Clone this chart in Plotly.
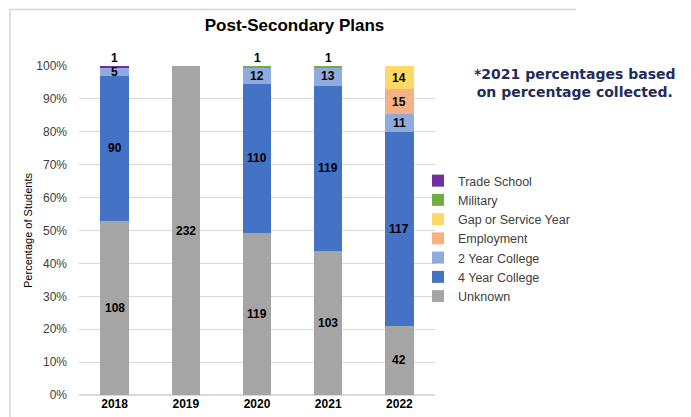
import plotly.graph_objects as go

years = ["2018", "2019", "2020", "2021", "2022"]
unknown = [108, 232, 119, 103, 42]
four_year = [90, 0, 110, 119, 117]
two_year = [5, 0, 12, 13, 11]
employment = [0, 0, 0, 0, 15]
gap_year = [0, 0, 0, 0, 14]
military = [0, 0, 1, 1, 0]
trade_school = [1, 0, 0, 0, 0]

series = [
    ("Unknown", unknown, "#A5A5A5"),
    ("4 Year College", four_year, "#4472C4"),
    ("2 Year College", two_year, "#8FAADC"),
    ("Employment", employment, "#F4B183"),
    ("Gap or Service Year", gap_year, "#FFD966"),
    ("Military", military, "#70AD47"),
    ("Trade School", trade_school, "#7030A0"),
]

W, H = 691, 417
L, R, T, B = 79, 435, 66, 395
pw, ph = R - L, B - T

def px(x):
    return (x - L) / pw

def py(y):
    return (B - y) / ph

fig = go.Figure()
for name, vals, col in series:
    fig.add_trace(go.Bar(x=years, y=vals, name=name, marker_color=col,
                         marker_line_width=0, width=0.4))

totals = [sum(s[1][i] for s in series) for i in range(len(years))]
lab_font = dict(family="Arial", size=12, color="#000000", weight="bold")
annotations = []
for i, yr in enumerate(years):
    cum = 0.0
    for name, vals, col in series:
        v = vals[i]
        if v == 0:
            continue
        pct = v / totals[i] * 100
        if name in ("Military", "Trade School"):
            annotations.append(dict(x=i, y=100, text=str(v), showarrow=False,
                                    yanchor="bottom", yshift=-1, font=lab_font))
        else:
            annotations.append(dict(x=i, y=cum + pct / 2, text=str(v), showarrow=False,
                                    font=lab_font))
        cum += pct

annotations.append(dict(xref="paper", yref="paper", x=px(574.5), y=py(82.5),
                        xanchor="center", yanchor="middle",
                        text="*2021 percentages based<br>on percentage collected.", showarrow=False,
                        align="center",
                        font=dict(family="DejaVu Sans", size=14, color="#1F2C5C", weight="bold")))

fig.update_layout(
    barmode="stack",
    barnorm="percent",
    width=W, height=H,
    margin=dict(l=L, r=W - R, t=T, b=H - B, autoexpand=False),
    paper_bgcolor="white", plot_bgcolor="white",
    title=dict(text="<b>Post-Secondary Plans</b>", x=294.5 / W, xanchor="center",
               y=1 - 25.5 / H, yanchor="middle",
               font=dict(family="Arial", size=17, color="#000000")),
    legend=dict(x=px(418), y=py(166), xanchor="left", yanchor="top", traceorder="reversed",
                font=dict(family="Arial", size=12.5, color="#404040"), itemwidth=30,
                tracegroupgap=0, bgcolor="rgba(0,0,0,0)"),
    annotations=annotations,
    showlegend=True,
)
fig.update_yaxes(range=[0, 100], dtick=10, ticksuffix="%", showgrid=True, gridcolor="#D9D9D9",
                 gridwidth=1, zeroline=True, zerolinecolor="#D9D9D9", automargin=False,
                 ticklabelstandoff=11,
                 tickfont=dict(family="Arial", size=12, color="#404040"),
                 title=dict(text="Percentage of Students", standoff=1,
                            font=dict(family="Arial", size=11, color="#000000")))
fig.update_xaxes(type="category", range=[-0.5, 4.5], automargin=False,
                 tickfont=dict(family="Arial", size=12, color="#000000", weight="bold"),
                 showline=False, ticks="")

# chart frame (top and left edges visible in the reference)
fig.add_shape(type="line", xref="paper", yref="paper", x0=px(10), x1=px(576), y0=py(9.5), y1=py(9.5),
              line=dict(color="#D6D6D6", width=1.5), layer="above")
fig.add_shape(type="line", xref="paper", yref="paper", x0=px(10), x1=px(10), y0=py(9), y1=py(430),
              line=dict(color="#D6D6D6", width=1.5), layer="above")

fig.write_html("out.html", config={"displayModeBar": False},
               post_script="document.body.style.margin='0';document.body.style.overflow='hidden';")
